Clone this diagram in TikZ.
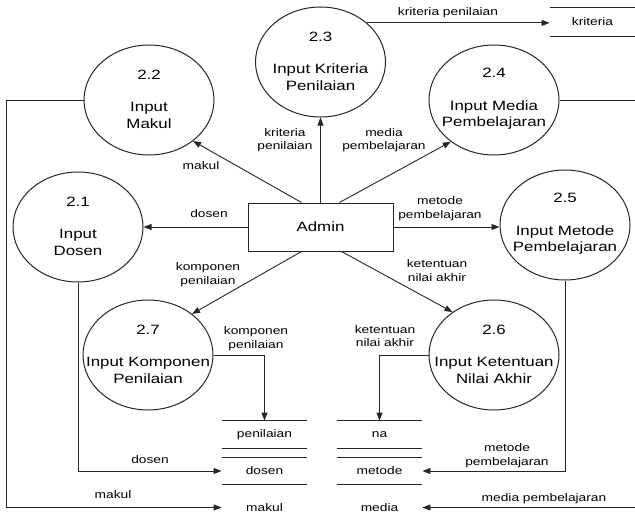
\documentclass[tikz,border=0pt]{standalone}
\usepackage{fontspec}
\usetikzlibrary{arrows.meta,shapes.geometric,calc}
\newfontfamily\dfdfont[FakeStretch=1.25]{Liberation Sans}
\begin{document}
\begin{tikzpicture}[x=1pt,y=-1pt,
  line width=0.9pt, draw=black!85,
  proc/.style={ellipse, draw, line width=1pt, minimum width=130pt, minimum height=110pt,
    inner sep=0pt},
  ptext/.style={inner sep=0pt, align=center, font=\dfdfont\fontsize{13.5}{16.5}\selectfont},
  ent/.style={rectangle, draw, line width=1pt, minimum width=145pt, minimum height=48pt,
    font=\dfdfont\fontsize{13.5}{16}\selectfont},
  store/.style={rectangle, inner sep=0pt, minimum width=85pt, font=\dfdfont\fontsize{11}{13}\selectfont},
  lbl/.style={align=center, inner sep=0pt, font=\dfdfont\fontsize{11}{13.5}\selectfont},
  flow/.style={-{Triangle[length=8pt,width=6pt]}},
]
\useasboundingbox[fill=white] (0,0) rectangle (635,519);

% processes: outline, then number and name
\node[proc] (n22) at (149,100) {};
\node[proc] (n23) at (320.5,62) {};
\node[proc] (n24) at (494,100) {};
\node[proc] (n21) at (78,227) {};
\node[proc] (n25) at (565,225) {};
\node[proc] (n27) at (148,355) {};
\node[proc] (n26) at (494,355) {};
\node[ptext] (t22) at ($(n22)+(0,-1)$) {2.2\\[16pt]Input\\Makul};
\node[ptext] (t23) at ($(n23)+(0,-1)$) {2.3\\[16pt]Input Kriteria\\Penilaian};
\node[ptext] (t24) at ($(n24)+(0,-1)$) {2.4\\[16pt]Input Media\\Pembelajaran};
\node[ptext] (t21) at ($(n21)+(0,-1)$) {2.1\\[16pt]Input\\Dosen};
\node[ptext] (t25) at ($(n25)+(0,-1)$) {2.5\\[16pt]Input Metode\\Pembelajaran};
\node[ptext] (t27) at ($(n27)+(0,-1)$) {2.7\\[16pt]Input Komponen\\Penilaian};
\node[ptext] (t26) at ($(n26)+(0,-1)$) {2.6\\[16pt]Input Ketentuan\\Nilai Akhir};

% external entity
\node[ent] (admin) at (320.5,227) {Admin};

% data stores
\node[store, minimum height=28pt] (skri) at (592.5,22) {kriteria};
\node[store, minimum height=27pt] (sPen) at (264.5,434.5) {penilaian};
\node[store, minimum height=26pt] (sDos) at (264.5,471) {dosen};
\node[store, minimum height=25pt] (sMak) at (264.5,507.5) {makul};
\node[store, minimum height=27pt] (sNa)  at (379.5,434.5) {na};
\node[store, minimum height=26pt] (sMet) at (379.5,471) {metode};
\node[store, minimum height=25pt] (sMed) at (379.5,507.5) {media};

% store borders
\draw (skri.north west) -- ++(85,0);
\draw (skri.south west) -- ++(85,0);
\foreach \s in {sPen,sNa,sDos,sMet}{
  \draw (\s.north west) -- (\s.north east);
  \draw (\s.south west) -- (\s.south east);
}

% anchors on the Admin box
\coordinate (aTL) at ($(admin.north west)+(54,0)$);
\coordinate (aTR) at ($(admin.north west)+(92,0)$);
\coordinate (aBL) at ($(admin.south west)+(54,0)$);
\coordinate (aBR) at ($(admin.south west)+(94,0)$);
\coordinate (leftbus) at (6,0);
\coordinate (rightbus) at (638,0);

% flows from Admin
\draw[flow] (aTL) -- (n22.-43);
\draw[flow] (admin.north) -- (n23.south);
\draw[flow] (aTR) -- (n24.-136);
\draw[flow] (admin.west) -- (n21.east);
\draw[flow] (admin.east) -- (admin.east -| n25.west);
\draw[flow] (aBL) -- (n27.43);
\draw[flow] (aBR) -- (n26.134);

% flows into stores
\draw[flow] (n23.40) -- (n23.40 -| skri.west);
\draw[flow] (n22.west) -- (n22.west -| leftbus) |- (sMak.west);
\draw[flow] (n21.south) |- (sDos.west);
\draw[flow] (n27.east) -| (sPen.north);
\draw[flow] (n26.west) -| (sNa.north);
\draw[flow] (n25.south) |- (sMet.east);
\draw[flow] (n24.east) -- (n24.east -| rightbus) |- (sMed.east);

% flow labels
\node[lbl] (l1) at (201,166) {makul};
\node[lbl] (l2) at (285,140) {kriteria\\penilaian};
\node[lbl] (l3) at (384,140) {media\\pembelajaran};
\node[lbl] (l4) at (209,214) {dosen};
\node[lbl] (l5) at (440,208.5) {metode\\pembelajaran};
\node[lbl] (l6) at (208,274.5) {komponen\\penilaian};
\node[lbl] (l7) at (437,270.5) {ketentuan\\nilai akhir};
\node[lbl] (l8) at (448,13) {kriteria penilaian};
\node[lbl] (l9) at (256,338.5) {komponen\\penilaian};
\node[lbl] (l10) at (385,336) {ketentuan\\nilai akhir};
\node[lbl] (l11) at (507,455.5) {metode\\pembelajaran};
\node[lbl] (l12) at (544,499) {media pembelajaran};
\node[lbl] (l13) at (150,460) {dosen};
\node[lbl] (l14) at (113,495) {makul};
\end{tikzpicture}
\end{document}
